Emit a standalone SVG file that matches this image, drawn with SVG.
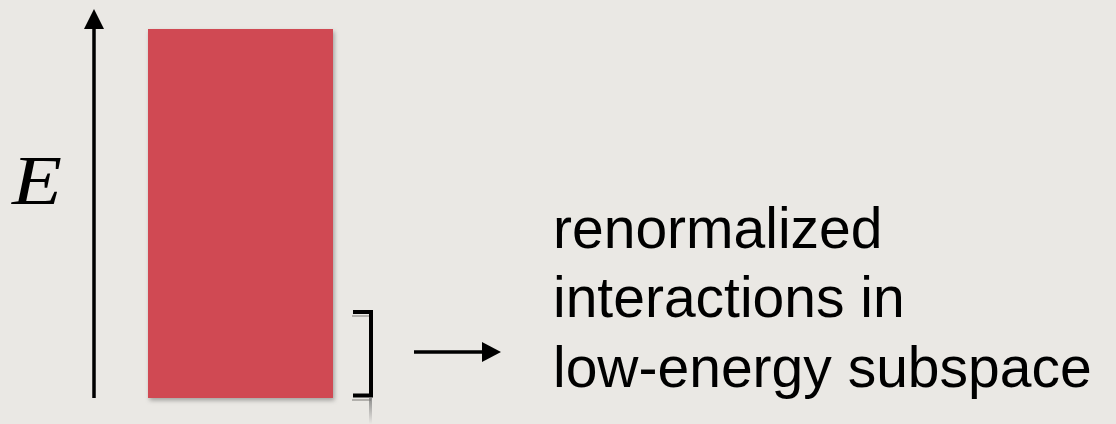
<svg xmlns="http://www.w3.org/2000/svg" width="1116" height="424" viewBox="0 0 1116 424">
  <defs>
    <filter id="shadow" x="-10%" y="-10%" width="130%" height="130%">
      <feDropShadow dx="1.5" dy="2.5" stdDeviation="2" flood-color="#000" flood-opacity="0.3"/>
    </filter>
    <linearGradient id="fade" x1="0" y1="0" x2="0" y2="1">
      <stop offset="0" stop-color="#777" stop-opacity="0.8"/>
      <stop offset="1" stop-color="#777" stop-opacity="0"/>
    </linearGradient>
  </defs>
  <style>
    .ink { stroke: #000; fill: none; }
    .label { font-family: "Liberation Sans", Arial, sans-serif; font-size: 57px; fill: #000; }
    .math { font-family: "Liberation Serif", "Times New Roman", serif; font-style: italic; font-size: 70px; fill: #000; }
  </style>
  <rect width="1116" height="424" fill="#EAE8E4"/>

  <g id="axis">
    <line class="ink" x1="94" y1="398" x2="94" y2="28" stroke-width="3.5"/>
    <path d="M84,29 L94,9 L104,29 Z" fill="#000"/>
    <text class="math" x="12" y="204" textLength="50" lengthAdjust="spacingAndGlyphs">E</text>
  </g>

  <g id="block">
    <rect x="148" y="29" width="185" height="369" fill="#D04852" filter="url(#shadow)"/>
  </g>

  <g id="bracket">
    <rect x="352" y="399" width="19" height="2" fill="#9a9894" opacity="0.7"/>
    <rect x="352" y="315" width="19" height="2" fill="#9a9894" opacity="0.7"/>
    <rect x="369" y="398" width="3" height="26" fill="url(#fade)"/>
    <path class="ink" d="M353,312 L371,312 L371,395.5 L353,395.5" stroke-width="4"/>
  </g>

  <g id="connectors">
    <line class="ink" x1="414" y1="352" x2="484" y2="352" stroke-width="3.5"/>
    <path d="M482,342 L501,352 L482,362 Z" fill="#000"/>
  </g>

  <g id="caption">
    <text class="label" x="553" y="248">renormalized</text>
    <text class="label" x="553" y="317">interactions in</text>
    <text class="label" x="553" y="387">low-energy subspace</text>
  </g>
</svg>
